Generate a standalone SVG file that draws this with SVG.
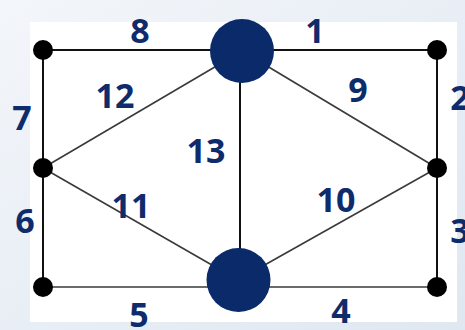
<svg xmlns="http://www.w3.org/2000/svg" width="465" height="330" viewBox="0 0 465 330">
<defs>
<linearGradient id="bg" x1="0" y1="0" x2="1" y2="1">
<stop offset="0" stop-color="#f3f6fa"/>
<stop offset="1" stop-color="#dfe7f1"/>
</linearGradient>
<style>
.e{stroke:#111;stroke-width:2;fill:none}
.d{stroke:#3a3a3a;stroke-width:1.6;fill:none}
.s{fill:#000}
.b{fill:#0a2a6a}
.t{font-family:"Open Sans","Noto Sans",sans-serif;font-weight:bold;font-size:34px;fill:#0e2c6c;text-anchor:middle}
</style>
</defs>
<rect width="465" height="330" fill="url(#bg)"/>
<rect x="30" y="22" width="427" height="300" fill="#fff"/>
<g id="edges">
<line class="e" x1="43" y1="50" x2="437" y2="50"/>
<line class="e" x1="43" y1="50" x2="43" y2="287"/>
<line class="e" x1="437" y1="50" x2="437" y2="287"/>
<line class="d" x1="43" y1="287" x2="437" y2="287"/>
<line class="e" x1="240" y1="51" x2="240" y2="280"/>
<line class="d" x1="242" y1="51" x2="437" y2="168"/>
<line class="d" x1="43" y1="168" x2="242" y2="51"/>
<line class="d" x1="43" y1="168" x2="238" y2="280"/>
<line class="d" x1="238" y1="280" x2="437" y2="168"/>
</g>
<g id="nTL"><circle class="s" cx="43" cy="50" r="10"/></g>
<g id="nTR"><circle class="s" cx="437" cy="50" r="10"/></g>
<g id="nML"><circle class="s" cx="43" cy="168" r="10"/></g>
<g id="nMR"><circle class="s" cx="437" cy="168" r="10"/></g>
<g id="nBL"><circle class="s" cx="43" cy="287" r="10"/></g>
<g id="nBR"><circle class="s" cx="437" cy="287" r="10"/></g>
<g id="nTop"><circle class="b" cx="242" cy="51" r="32"/></g>
<g id="nBot"><circle class="b" cx="238.5" cy="280" r="32"/></g>
<g id="labels">
<text class="t" x="140" y="43">8</text>
<text class="t" x="315" y="43">1</text>
<text class="t" x="115" y="108">12</text>
<text class="t" x="22" y="130">7</text>
<text class="t" x="206" y="163">13</text>
<text class="t" x="358" y="102">9</text>
<text class="t" x="460" y="110">2</text>
<text class="t" x="25" y="233">6</text>
<text class="t" x="131" y="218">11</text>
<text class="t" x="139" y="327">5</text>
<text class="t" x="336" y="212">10</text>
<text class="t" x="460" y="243">3</text>
<text class="t" x="341" y="323">4</text>
</g>
</svg>
